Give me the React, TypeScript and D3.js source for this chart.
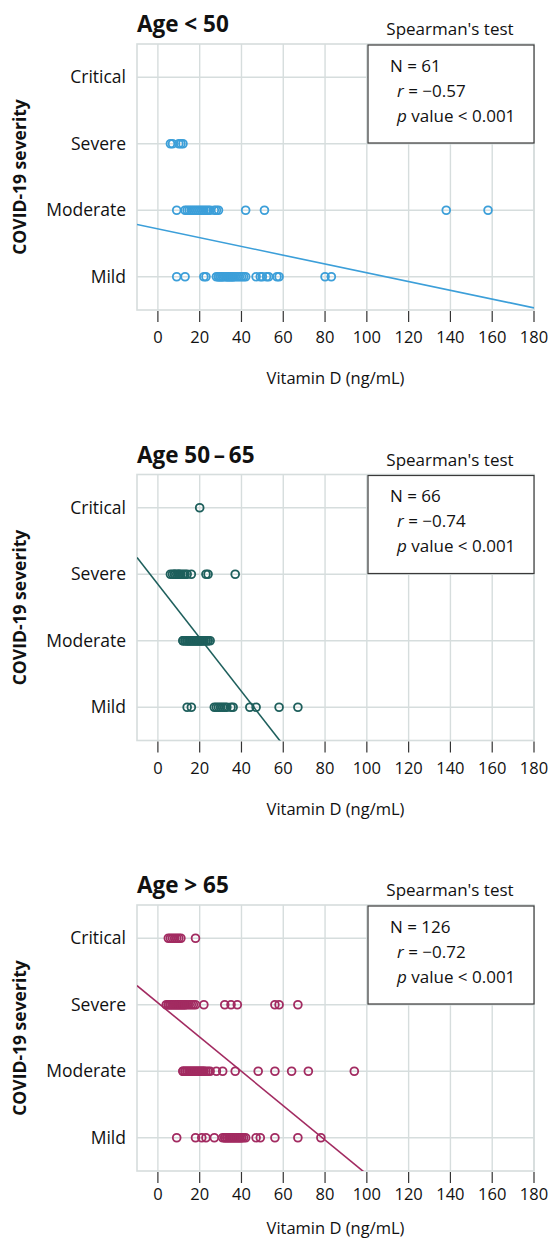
import React, { useEffect, useRef } from 'react';
import * as d3 from 'd3';

const severityLevels = ['Critical', 'Severe', 'Moderate', 'Mild'];
const vitaminTicks = [0, 20, 40, 60, 80, 100, 120, 140, 160, 180];
const panelTitles = ['Age < 50', 'Age 50\u2009\u2013\u200965', 'Age > 65'];
const panelN = ['61', '66', '126'];
const panelR = ['\u22120.57', '\u22120.74', '\u22120.72'];
const panelP = ['0.001', '0.001', '0.001'];
const panelColors = ['#3c9fd9', '#1e5f5c', '#a22b61'];
// fitted line: level = intercept + slope * vitD  (Mild = 1 ... Critical = 4)
const fitIntercepts = [1.72, 2.85, 3.03];
const fitSlopes = [-0.0066, -0.0403, -0.0258];

// Age < 50
const u50Critical: number[] = [];
const u50Severe = [6, 7, 10, 11, 12];
const u50Moderate = [9, 13, 14, 15, 16, 17, 18, 19, 20, 21, 22, 23, 24, 25, 27, 28, 29, 42, 51, 138, 158];
const u50Mild = [9, 13, 22, 23, 28, 29, 29, 30, 30, 31, 31, 32, 33, 33, 34, 34, 35, 35, 36, 36, 37, 38, 39, 40, 41, 42, 47, 49, 50, 52, 53, 57, 58, 80, 83];

// Age 50-65
const a5065Critical = [20];
const a5065Severe = [6, 7, 8, 8, 9, 10, 10, 11, 12, 13, 14, 16, 23, 24, 37];
const a5065Moderate = [12, 12, 13, 13, 14, 14, 14, 15, 15, 15, 16, 16, 16, 17, 17, 17, 18, 18, 18, 19, 19, 19, 20, 20, 20, 21, 21, 21, 22, 22, 23, 23, 24, 24, 25];
const a5065Mild = [14, 16, 27, 28, 29, 30, 31, 32, 33, 35, 36, 44, 47, 58, 67];

// Age > 65
const o65Critical = [5, 6, 7, 8, 9, 10, 11, 18];
const o65Severe = [4, 5, 5, 6, 6, 7, 7, 8, 8, 9, 9, 10, 10, 11, 11, 12, 12, 13, 13, 14, 15, 16, 17, 18, 22, 32, 35, 38, 56, 58, 67];
const o65Moderate = [12, 12, 13, 13, 14, 14, 15, 15, 16, 16, 17, 17, 18, 18, 19, 19, 20, 20, 21, 21, 22, 22, 23, 24, 25, 28, 31, 37, 48, 56, 64, 72, 94];
const o65Mild = [9, 18, 21, 23, 27, 31, 32, 32, 33, 33, 34, 34, 35, 35, 36, 36, 37, 37, 38, 38, 39, 39, 40, 40, 41, 42, 47, 49, 56, 67, 78];

const panelPoints = [
    [u50Critical, u50Severe, u50Moderate, u50Mild],
    [a5065Critical, a5065Severe, a5065Moderate, a5065Mild],
    [o65Critical, o65Severe, o65Moderate, o65Mild],
];

const W = 551;
const H = 1244;
const panelOffsets = [0, 430.5, 861];
// the last panel has its axis labels packed a bit tighter
const tickLabelGap = [33, 33, 29];
const axisTitleGap = [74, 74, 63];
const font = '"Open Sans", Lato, sans-serif';
const gridColor = '#d6dddd';

const App: React.FC = () => {
    const svgRef = useRef<SVGSVGElement | null>(null);

    useEffect(() => {
        if (!svgRef.current) return;
        const svg = d3.select(svgRef.current);
        svg.selectAll('*').remove();

        const plot = { left: 137, right: 534, top: 44, bottom: 310 };

        const x = d3.scaleLinear().domain([-10, 180]).range([plot.left, plot.right]);
        const y = d3.scalePoint<string>().domain(severityLevels).range([plot.top, plot.bottom]).padding(0.5);
        const yLevel = d3
            .scaleLinear()
            .domain([1, 4])
            .range([y('Mild') as number, y('Critical') as number]);

        svg.append('defs')
            .append('clipPath')
            .attr('id', 'plot-clip')
            .append('rect')
            .attr('x', plot.left)
            .attr('y', plot.top)
            .attr('width', plot.right - plot.left)
            .attr('height', plot.bottom - plot.top);

        panelOffsets.forEach((off, i) => {
            const g = svg.append('g').attr('transform', `translate(0, ${off})`);
            const color = panelColors[i];

            // grid
            g.append('g')
                .selectAll('line')
                .data(vitaminTicks)
                .enter()
                .append('line')
                .attr('x1', (d) => x(d))
                .attr('x2', (d) => x(d))
                .attr('y1', plot.top)
                .attr('y2', plot.bottom)
                .attr('stroke', gridColor)
                .attr('stroke-width', 1.4);
            g.append('g')
                .selectAll('line')
                .data(severityLevels)
                .enter()
                .append('line')
                .attr('x1', plot.left)
                .attr('x2', plot.right)
                .attr('y1', (d) => y(d) as number)
                .attr('y2', (d) => y(d) as number)
                .attr('stroke', gridColor)
                .attr('stroke-width', 1.4);
            g.append('rect')
                .attr('x', plot.left)
                .attr('y', plot.top)
                .attr('width', plot.right - plot.left)
                .attr('height', plot.bottom - plot.top)
                .attr('fill', 'none')
                .attr('stroke', gridColor)
                .attr('stroke-width', 1.6);

            // x ticks and labels
            g.append('g')
                .selectAll('line')
                .data(vitaminTicks)
                .enter()
                .append('line')
                .attr('x1', (d) => x(d))
                .attr('x2', (d) => x(d))
                .attr('y1', plot.bottom + 1)
                .attr('y2', plot.bottom + 12)
                .attr('stroke', '#333')
                .attr('stroke-width', 1.2);
            g.append('g')
                .selectAll('text')
                .data(vitaminTicks)
                .enter()
                .append('text')
                .attr('x', (d) => x(d))
                .attr('y', plot.bottom + tickLabelGap[i])
                .attr('text-anchor', 'middle')
                .style('font-family', font)
                .style('font-size', '16.5px')
                .attr('fill', '#111')
                .text((d) => d);
            g.append('text')
                .attr('x', (plot.left + plot.right) / 2)
                .attr('y', plot.bottom + axisTitleGap[i])
                .attr('text-anchor', 'middle')
                .style('font-family', font)
                .style('font-size', '16.5px')
                .attr('fill', '#111')
                .text('Vitamin D (ng/mL)');

            // y category labels
            g.append('g')
                .selectAll('text')
                .data(severityLevels)
                .enter()
                .append('text')
                .attr('x', 126)
                .attr('y', (d) => y(d) as number)
                .attr('dy', '0.35em')
                .attr('text-anchor', 'end')
                .style('font-family', font)
                .style('font-size', '17.5px')
                .attr('fill', '#111')
                .text((d) => d);
            g.append('text')
                .attr('transform', `translate(26, ${(plot.top + plot.bottom) / 2}) rotate(-90)`)
                .attr('text-anchor', 'middle')
                .style('font-family', font)
                .style('font-size', '17.5px')
                .style('font-weight', 'bold')
                .attr('fill', '#111')
                .text('COVID-19 severity');

            // titles
            g.append('text')
                .attr('x', plot.left)
                .attr('y', 32)
                .style('font-family', font)
                .style('font-size', '22.5px')
                .style('font-weight', 'bold')
                .attr('fill', '#111')
                .text(panelTitles[i]);
            g.append('text')
                .attr('x', 450)
                .attr('y', 35)
                .attr('text-anchor', 'middle')
                .style('font-family', font)
                .style('font-size', '17px')
                .attr('fill', '#111')
                .text("Spearman's test");

            // regression line
            g.append('line')
                .attr('clip-path', 'url(#plot-clip)')
                .attr('x1', x(-10))
                .attr('x2', x(180))
                .attr('y1', yLevel(fitIntercepts[i] + fitSlopes[i] * -10))
                .attr('y2', yLevel(fitIntercepts[i] + fitSlopes[i] * 180))
                .attr('stroke', color)
                .attr('stroke-width', 1.6);

            // points
            const pts: { level: string; v: number }[] = [];
            severityLevels.forEach((lvl, k) => {
                panelPoints[i][k].forEach((v) => pts.push({ level: lvl, v }));
            });
            g.append('g')
                .selectAll('circle')
                .data(pts)
                .enter()
                .append('circle')
                .attr('cx', (d) => x(d.v))
                .attr('cy', (d) => y(d.level) as number)
                .attr('r', 3.9)
                .attr('fill', 'none')
                .attr('stroke', color)
                .attr('stroke-width', 1.8);

            // stats box
            const bx = 368;
            g.append('rect')
                .attr('x', bx)
                .attr('y', plot.top + 1)
                .attr('width', plot.right - bx)
                .attr('height', 98)
                .attr('fill', '#fff')
                .attr('stroke', '#3a3a3a')
                .attr('stroke-width', 1.2);
            const t1 = g.append('text')
                .attr('x', 390)
                .attr('y', 71.5)
                .style('font-family', font)
                .style('font-size', '17px')
                .attr('fill', '#111');
            t1.text(`N = ${panelN[i]}`);
            const t2 = g.append('text')
                .attr('x', 397)
                .attr('y', 96.5)
                .style('font-family', font)
                .style('font-size', '17px')
                .attr('fill', '#111');
            t2.append('tspan').style('font-style', 'italic').text('r');
            t2.append('tspan').text(` = ${panelR[i]}`);
            const t3 = g.append('text')
                .attr('x', 397)
                .attr('y', 121.5)
                .style('font-family', font)
                .style('font-size', '17px')
                .attr('fill', '#111');
            t3.append('tspan').style('font-style', 'italic').text('p');
            t3.append('tspan').text(` value < ${panelP[i]}`);
        });
    }, []);

    return (
        <svg
            ref={svgRef}
            width={W}
            height={H}
            style={{ position: 'absolute', left: 0, top: 0, background: '#fff' }}
        />
    );
};

export default App;
